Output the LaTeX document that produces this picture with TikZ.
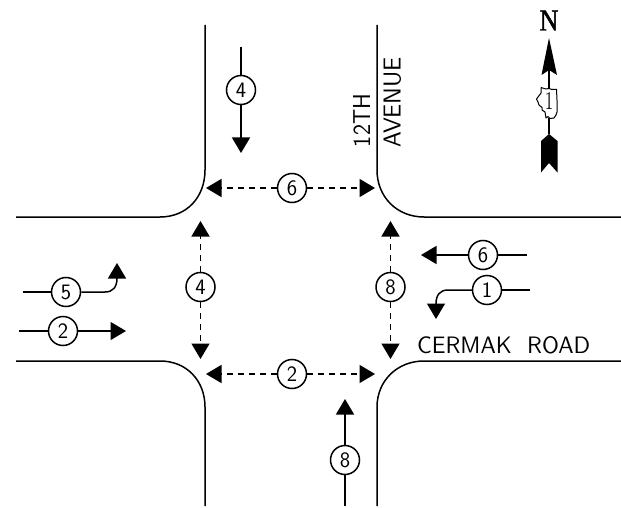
\documentclass[tikz,border=0pt]{standalone}
\usepackage{fontspec}
\newfontfamily\nfont[FakeBold=1.6]{Liberation Serif}
\newfontfamily\numfont{DejaVu Sans}
\usetikzlibrary{arrows.meta}
\tikzset{
  x=1pt,y=-1pt,
  road/.style={line width=1.5pt,line cap=butt},
  num/.style={circle,draw,line width=1.5pt,minimum size=29pt,inner sep=0pt,font=\sffamily\fontsize{22}{22}\selectfont},
  mv/.style={line width=1.5pt,-{Triangle[width=18pt,length=15.5pt]}},
  ped/.style={line width=1.5pt,dash pattern=on 6pt off 5pt,-{Triangle[width=18pt,length=15.5pt]}},
  plain/.style={line width=1.5pt},
}
\begin{document}
\begin{tikzpicture}
\useasboundingbox (0,0) rectangle (621,508);
\fill[white] (0,0) rectangle (621,508);
% roads
\draw[road] (205,25) -- (205,170) .. controls (205,197) and (187,217) .. (160,217) -- (16,217);
\draw[road] (377,25) -- (377,170) .. controls (377,197) and (397,217) .. (424,217) -- (621,217);
\draw[road] (16,361) -- (160,361) .. controls (187,361) and (205,381) .. (205,407) -- (205,506);
\draw[road] (621,361) -- (424,361) .. controls (397,361) and (377,381) .. (377,407) -- (377,506);
% nodes
\node[num] (a4) at (241,90) {4};
\node[num] (p6) at (292,188) {6};
\node[num] (p4) at (200.5,287) {4};
\node[num] (p8) at (390.5,287) {8};
\node[num] (p2) at (292,374) {2};
\node[num] (a8) at (345,460) {8};
\node[num] (a5) at (66,292) {5};
\node[num] (a2) at (63,331) {2};
\node[num] (a6) at (483,255) {6};
\node[num] (a1) at (487,290) {1};
% free ends
\coordinate (a4s) at (241,47); \coordinate (a4e) at (241,153);
\coordinate (p6l) at (206,188); \coordinate (p6r) at (375,188);
\coordinate (p4u) at (200.5,221); \coordinate (p4d) at (200.5,359);
\coordinate (p8u) at (390.5,221); \coordinate (p8d) at (390.5,359);
\coordinate (p2l) at (206,374); \coordinate (p2r) at (375,374);
\coordinate (a8s) at (345,506); \coordinate (a8e) at (345,399);
\coordinate (a5s) at (23,292); \coordinate (a5e) at (117,263);
\coordinate (a2s) at (19,331); \coordinate (a2e) at (126,331);
\coordinate (a6s) at (527,255); \coordinate (a6e) at (421,255);
\coordinate (a1s) at (530,290); \coordinate (a1e) at (436,319);
% connectors
\draw[plain] (a4s) -- (a4.north); \draw[mv] (a4.south) -- (a4e);
\draw[ped] (p6.west) -- (p6l); \draw[ped] (p6.east) -- (p6r);
\draw[ped] (p4.north) -- (p4u); \draw[ped] (p4.south) -- (p4d);
\draw[ped] (p8.north) -- (p8u); \draw[ped] (p8.south) -- (p8d);
\draw[ped] (p2.west) -- (p2l); \draw[ped] (p2.east) -- (p2r);
\draw[plain] (a8s) -- (a8.south); \draw[mv] (a8.north) -- (a8e);
\draw[plain] (a5s) -- (a5.west); \draw[mv] (a5.east) -- (105,292) .. controls (113,292) and (117,287) .. (a5e);
\draw[plain] (a2s) -- (a2.west); \draw[mv] (a2.east) -- (a2e);
\draw[plain] (a6s) -- (a6.east); \draw[mv] (a6.west) -- (a6e);
\draw[plain] (a1s) -- (a1.east); \draw[mv] (a1.west) -- (448,290) .. controls (440,290) and (436,295) .. (a1e);
% labels
\node[inner sep=0pt,anchor=west] (cermak) at (417,345) {\resizebox{173pt}{17pt}{\sffamily CERMAK\ \ ROAD}};
\node[inner sep=0pt,rotate=90] (twelfth) at (361.5,120.5) {\resizebox{53pt}{17pt}{\sffamily 12TH}};
\node[inner sep=0pt,rotate=90] (avenue) at (392.5,102) {\resizebox{90pt}{17pt}{\sffamily AVENUE}};
% north arrow
\node[inner sep=0pt] (north) at (549,20.5) {\resizebox{19pt}{20pt}{\nfont N}};
\draw[line width=1.3pt] (549,70) -- (549,88) (549,118) -- (549,134);
\fill (549,38) -- (557,75) -- (549,70) -- (541.5,75) -- cycle;
\fill (549,134) -- (557.5,141) -- (557.5,172.5) -- (549,163) -- (541,172.5) -- (541,141) -- cycle;
\draw[line width=1pt,fill=white,line join=round] (541,87.5) -- (546,89) -- (549,88.5) -- (552,89.5) -- (556.5,89.5) -- (557,100) -- (557,112) -- (556,115) -- (554,118) -- (550,118.5) -- (548,116.5) -- (546,118) -- (545,112) -- (542,110) -- (542,107.5) -- (539,105) -- (538,102) -- (536.5,99) -- (538,97) -- (541,93) -- (541,87.5);
\node[inner sep=0pt] (one) at (549,101) {\resizebox{8pt}{17pt}{1}};
\end{tikzpicture}
\end{document}
